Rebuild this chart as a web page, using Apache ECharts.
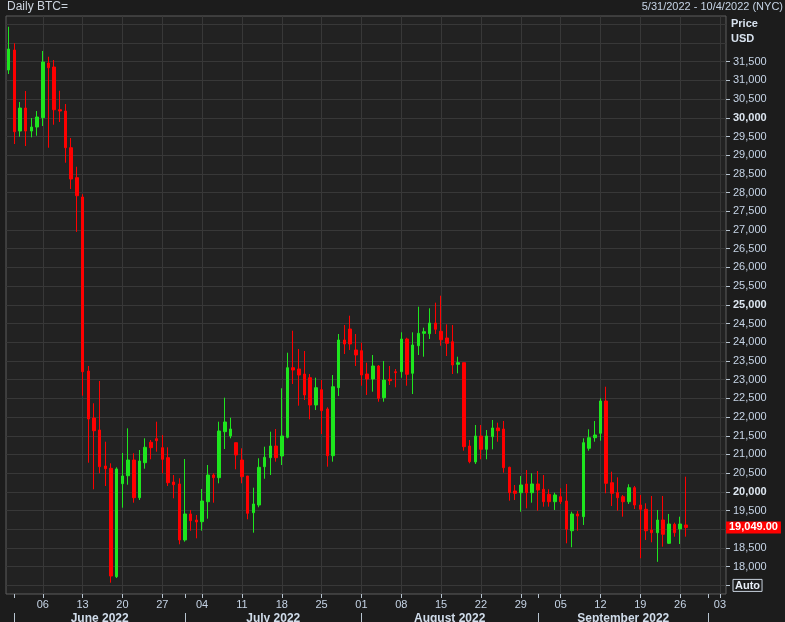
<!DOCTYPE html>
<html><head><meta charset="utf-8">
<script src="https://cdn.jsdelivr.net/npm/echarts@6/dist/echarts.min.js"></script>
<style>html,body{margin:0;padding:0;background:#1c1c1c}#c{width:785px;height:622px}</style>
</head><body><div id="c"></div>
<script>
const dates = ['2022-05-31','2022-06-01','2022-06-02','2022-06-03','2022-06-04','2022-06-05','2022-06-06','2022-06-07','2022-06-08','2022-06-09','2022-06-10','2022-06-11','2022-06-12','2022-06-13','2022-06-14','2022-06-15','2022-06-16','2022-06-17','2022-06-18','2022-06-19','2022-06-20','2022-06-21','2022-06-22','2022-06-23','2022-06-24','2022-06-25','2022-06-26','2022-06-27','2022-06-28','2022-06-29','2022-06-30','2022-07-01','2022-07-02','2022-07-03','2022-07-04','2022-07-05','2022-07-06','2022-07-07','2022-07-08','2022-07-09','2022-07-10','2022-07-11','2022-07-12','2022-07-13','2022-07-14','2022-07-15','2022-07-16','2022-07-17','2022-07-18','2022-07-19','2022-07-20','2022-07-21','2022-07-22','2022-07-23','2022-07-24','2022-07-25','2022-07-26','2022-07-27','2022-07-28','2022-07-29','2022-07-30','2022-07-31','2022-08-01','2022-08-02','2022-08-03','2022-08-04','2022-08-05','2022-08-06','2022-08-07','2022-08-08','2022-08-09','2022-08-10','2022-08-11','2022-08-12','2022-08-13','2022-08-14','2022-08-15','2022-08-16','2022-08-17','2022-08-18','2022-08-19','2022-08-20','2022-08-21','2022-08-22','2022-08-23','2022-08-24','2022-08-25','2022-08-26','2022-08-27','2022-08-28','2022-08-29','2022-08-30','2022-08-31','2022-09-01','2022-09-02','2022-09-03','2022-09-04','2022-09-05','2022-09-06','2022-09-07','2022-09-08','2022-09-09','2022-09-10','2022-09-11','2022-09-12','2022-09-13','2022-09-14','2022-09-15','2022-09-16','2022-09-17','2022-09-18','2022-09-19','2022-09-20','2022-09-21','2022-09-22','2022-09-23','2022-09-24','2022-09-25','2022-09-26','2022-09-27'];
const opens = [31277,31811,29646,30261,29646,29753,30002,31464,31357,30216,30181,29200,28400,27882,23231,21975,21654,20692,20630,17733,20219,20432,20852,19844,20780,21325,21421,21181,20914,20264,20211,18714,19409,19248,19203,19737,20451,20379,21609,21494,21315,20852,20424,19443,19649,20673,20914,21226,20959,21459,23319,23285,23151,23052,22322,22731,22215,20967,22785,24060,24354,23793,23774,23151,23017,23365,22517,23009,23212,23212,24086,23170,23907,24239,24228,24514,24292,24113,24014,23410,23453,21226,20799,21494,21138,21475,21708,21681,20657,20024,19978,20211,19978,20211,20069,19935,19737,19871,19756,18962,19409,19337,21165,21448,21566,22429,20245,19978,19871,19737,20112,19649,19534,18981,18909,19248,18625,19133,19008,19115];
const closes = [31838,29628,30261,29646,29753,30021,31491,31338,30216,30181,29200,28363,27917,23212,21948,21635,20673,20620,17751,20612,20424,20852,19844,20825,21192,21181,21368,20871,20245,20192,18714,19409,19230,19195,19756,20451,20379,21627,21868,21681,20986,20406,19427,19676,20657,20924,21226,20914,21494,23319,23258,23124,22590,22322,22785,22170,20967,22811,24060,23953,23953,23659,23124,23017,23365,22501,22990,22972,23186,24086,23143,23926,24239,24282,24514,24346,24068,23971,23391,23453,21208,20807,21494,21138,21494,21708,21635,20646,19978,19962,20184,19978,20211,20050,19737,19737,19917,19737,19000,19409,19355,21315,21448,21520,22429,20229,19962,19844,19737,20112,19649,19534,18962,18909,19248,18866,19141,18909,19141,19049];
const lows = [31170,29299,29494,29245,29478,29521,29780,29200,29815,29887,28799,28096,26950,22571,20780,20069,20497,20157,17572,17698,19577,20192,19711,19783,20620,20871,21074,20497,20157,19828,18599,18668,18962,18759,18962,19283,19711,20229,21146,21432,20604,20229,19267,18909,19588,20352,20451,20807,20718,21432,22884,22304,22456,21940,22189,21547,20673,20807,22563,23686,23793,23365,22838,22590,22678,22410,22410,22857,22795,23052,22838,22616,23659,23613,24087,24220,23907,23632,23151,23169,21101,20764,20746,20871,20871,21138,21341,20513,19764,19783,19470,19561,19711,19497,19604,19604,19516,19676,18625,18519,18962,19115,21101,21341,21368,19962,19623,19497,19337,19676,19542,18225,18714,18652,18130,18535,18607,18802,18607,18802];
const highs = [32434,31991,30421,30715,29994,30181,31785,31632,31544,30723,30368,29459,28692,27957,23365,22368,22964,21341,20764,20657,21039,21699,21031,21119,21432,21387,21876,21520,21192,20451,20363,20879,19516,19382,20077,20718,20497,21876,22517,21983,21315,21165,20424,20112,20898,21208,21609,21681,22769,23720,24308,23819,23766,23151,23052,22990,22261,23124,24220,24461,24709,24220,23988,23453,23659,23391,23499,23365,23285,24266,24121,24266,24950,24389,24907,25057,25244,24479,24461,23613,23453,21387,21788,21788,21654,21921,21849,21895,20673,20184,20424,20585,20497,20558,20451,20069,19978,20096,20211,19470,19489,21432,21673,21895,22501,22811,20539,20390,19917,20203,20157,19917,19695,19890,19516,19890,19409,19176,19337,20406];
const mondays = ['2022-06-06','2022-06-13','2022-06-20','2022-06-27','2022-07-04','2022-07-11','2022-07-18','2022-07-25','2022-08-01','2022-08-08','2022-08-15','2022-08-22','2022-08-29','2022-09-05','2022-09-12','2022-09-19','2022-09-26','2022-10-03'];
const monthStarts = ['2022-06-01','2022-07-01','2022-08-01','2022-09-01','2022-10-01'];
const monthNames = ['June 2022','July 2022','August 2022','September 2022'];
const priceTicks = [17500,18000,18500,19000,19500,20000,20500,21000,21500,22000,22500,23000,23500,24000,24500,25000,25500,26000,26500,27000,27500,28000,28500,29000,29500,30000,30500,31000,31500];
const gridTicks = priceTicks.concat([32000,32500]);
const boldTicks = [20000,25000,30000];
const autoTick = 17500;
const lastPrice = closes[closes.length-1];

const ORIGIN = Date.UTC(2022,4,30);
const dayIdx = s => (Date.parse(s+'T00:00:00Z') - ORIGIN) / 86400000;
const monIdx = mondays.map(dayIdx);
const msIdx = monthStarts.map(dayIdx);
const midIdx = monthNames.map((n,i) => (msIdx[i] + msIdx[i+1]) / 2);
const candles = dates.map((d,i) => [dayIdx(d), opens[i], closes[i], lows[i], highs[i]]);

const X_MIN = 0.54, X_MAX = 127.06, Y_MIN = 17270, Y_MAX = 32721;
const FONT = 'Liberation Sans';
const TXT = '#c6d4e6';
const fmt = v => Number(v).toLocaleString('en-US');

const chart = echarts.init(document.getElementById('c'), null, {renderer:'canvas'});
chart.setOption({
  backgroundColor: '#1c1c1c',
  animation: false,
  textStyle: {fontFamily: FONT},
  title: [
    {text:'Daily BTC=', left:7, top:1, padding:0, textStyle:{color:'#ccd4de', fontSize:12, fontWeight:'normal', fontFamily:FONT}},
    {text:'5/31/2022 - 10/4/2022 (NYC)', right:2, top:1, padding:0, textStyle:{color:TXT, fontSize:11, fontWeight:'normal', fontFamily:FONT}},
    {text:'Price\nUSD', left:731, top:16, padding:0, textStyle:{color:'#d8e2ee', fontSize:11, fontWeight:'bold', lineHeight:15, fontFamily:FONT}}
  ],
  grid: {left:6, top:16, width:720, height:578, show:true, outerBoundsMode:'none', containLabel:false,
         backgroundColor:'#222222', borderColor:'#5c5c5c', borderWidth:1},
  xAxis: [
    {type:'value', min:X_MIN, max:X_MAX, position:'bottom',
     axisLine:{show:false},
     axisTick:{show:true, customValues:monIdx, length:4, lineStyle:{color:'#b8c4d0'}},
     axisLabel:{customValues:monIdx, margin:5, color:TXT, fontSize:11, fontFamily:FONT,
       formatter: v => { const i = monIdx.indexOf(v); return i<0 ? '' : mondays[i].slice(8,10); }},
     splitLine:{show:true, lineStyle:{color:'#383838', width:1}}},
    {type:'value', min:X_MIN, max:X_MAX, position:'bottom',
     axisLine:{show:false},
     axisTick:{show:true, customValues:msIdx, length:4, lineStyle:{color:'#b8c4d0'}},
     axisLabel:{show:false}, splitLine:{show:false}},
    {type:'value', min:X_MIN, max:X_MAX, position:'bottom', offset:19,
     axisLine:{show:false},
     axisTick:{show:true, customValues:msIdx, length:9, lineStyle:{color:'#b8c4d0'}},
     axisLabel:{customValues:midIdx, margin:0, color:'#d0dcea', fontSize:12, fontWeight:'bold', fontFamily:FONT,
       formatter: v => { const i = midIdx.indexOf(v); return i<0 ? '' : monthNames[i]; }},
     splitLine:{show:false}}
  ],
  yAxis: [
    {type:'value', min:Y_MIN, max:Y_MAX, position:'right', scale:true,
     axisLine:{show:false}, axisTick:{show:false, customValues:gridTicks},
     axisLabel:{show:false, customValues:gridTicks},
     splitLine:{show:true, lineStyle:{color:'#383838', width:1}}},
    {type:'value', min:Y_MIN, max:Y_MAX, position:'right', scale:true,
     axisLine:{show:false},
     axisTick:{show:true, customValues:priceTicks, length:4, lineStyle:{color:'#b8c4d0'}},
     axisLabel:{customValues:priceTicks, margin:7, color:TXT, fontSize:11, fontFamily:FONT,
       formatter: v => {
         if (v === autoTick) return '{a|Auto}';
         if (v === 19000) return '';
         if (boldTicks.indexOf(v) >= 0) return '{b|' + fmt(v) + '}';
         return fmt(v);
       },
       rich:{
         a:{color:'#e8eef6', fontWeight:'bold', fontSize:11, fontFamily:FONT, borderColor:'#c8d2de', borderWidth:1, padding:[1,2,0,2]},
         b:{color:'#dde6f0', fontWeight:'bold', fontSize:11, fontFamily:FONT}
       }},
     splitLine:{show:false}},
    {type:'value', min:Y_MIN, max:Y_MAX, position:'right', scale:true, z:10,
     axisLine:{show:false}, axisTick:{show:false},
     axisLabel:{customValues:[lastPrice], margin:0, color:'#ffffff', fontSize:11, fontWeight:'bold', fontFamily:FONT,
       backgroundColor:'#ff0000', padding:[1,3,0,3],
       formatter: v => Number(v).toLocaleString('en-US',{minimumFractionDigits:2, maximumFractionDigits:2})},
     splitLine:{show:false}}
  ],
  series: [{
    type:'candlestick', xAxisIndex:0, yAxisIndex:0,
    data: candles, barWidth:3,
    itemStyle:{color:'#1ee61e', color0:'#ff0000', borderColor:'#1ee61e', borderColor0:'#ff0000', borderWidth:1}
  }]
});
</script></body></html>
